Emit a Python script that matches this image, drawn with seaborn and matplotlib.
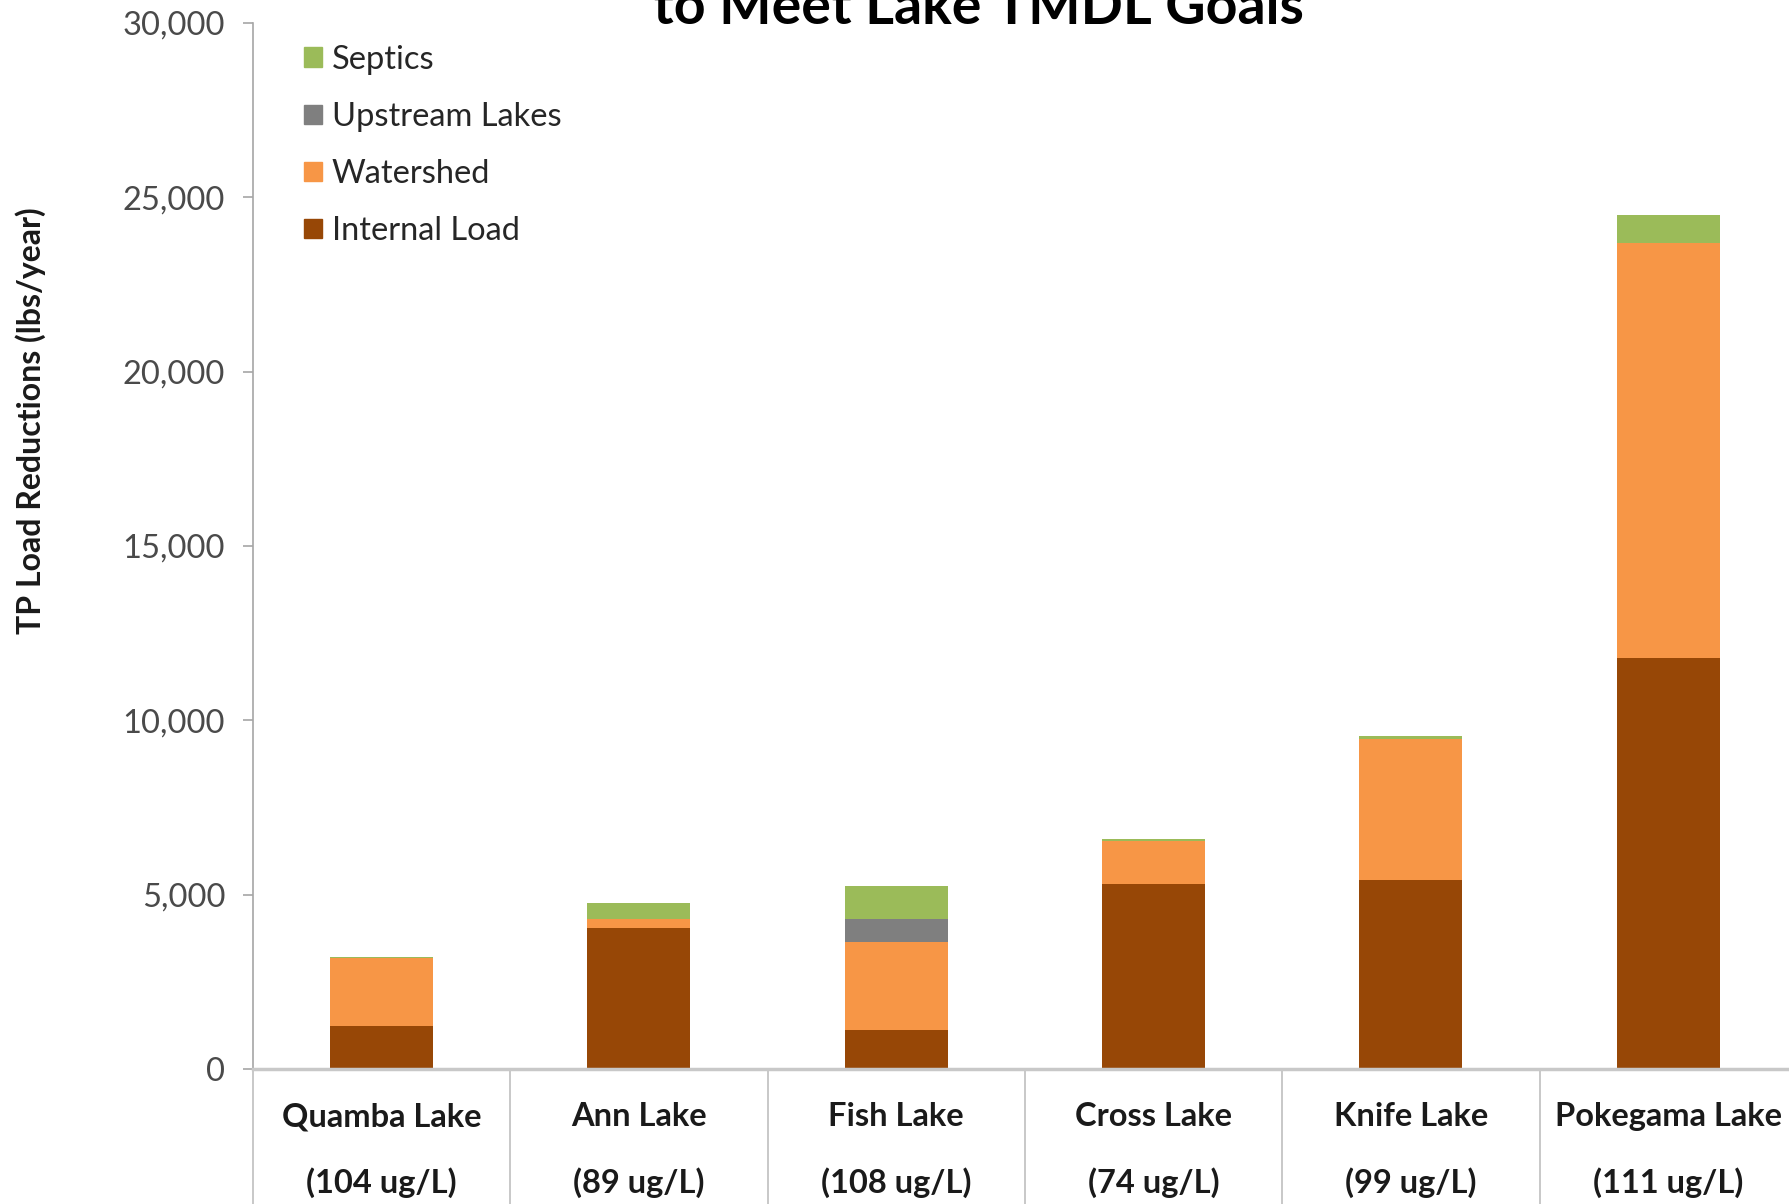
import numpy as np
import seaborn as sns
import matplotlib.pyplot as plt
from matplotlib.patches import Patch
from matplotlib.ticker import FuncFormatter

# Data (lbs/year)
lakes = ['Quamba Lake', 'Ann Lake', 'Fish Lake', 'Cross Lake', 'Knife Lake', 'Pokegama Lake']
concs = ['(104 ug/L)', '(89 ug/L)', '(108 ug/L)', '(74 ug/L)', '(99 ug/L)', '(111 ug/L)']
internal_load = [1220, 4050, 1130, 5320, 5430, 11790]
watershed = [1950, 240, 2510, 1210, 4040, 11900]
upstream_lakes = [0, 0, 660, 0, 0, 0]
septics = [40, 460, 940, 70, 70, 810]

series = [('Internal Load', internal_load, '#974706'),
          ('Watershed', watershed, '#F79646'),
          ('Upstream Lakes', upstream_lakes, '#7F7F7F'),
          ('Septics', septics, '#9BBB59')]

sns.set_style("white")
plt.rcParams['font.family'] = ['Lato', 'DejaVu Sans']

fig = plt.figure(figsize=(17.89, 12.04), dpi=100)
ax = fig.add_axes([0.1414, 0.1121, 0.863, 0.8689])

# stacked bars
bottom = np.zeros(len(lakes))
for name, vals, col in series:
    sns.barplot(x=lakes, y=vals, bottom=bottom, color=col, width=0.4,
                saturation=1, ax=ax, linewidth=0)
    bottom = bottom + np.array(vals)

ax.set_ylim(0, 30000)
ax.set_xlim(-0.5, len(lakes) - 0.5)
ax.set_yticks(range(0, 30001, 5000))
ax.yaxis.set_major_formatter(FuncFormatter(lambda v, p: f'{int(v):,}'))
ax.tick_params(axis='y', labelsize=23.5, labelcolor='#4a4a4a', color='#A6A6A6',
               length=7, width=1.2, pad=13, left=True)

# category labels (two lines) and long separator ticks like Excel
ax.set_xticks(range(len(lakes)))
ax.set_xticklabels([f'{a}\n{b}' for a, b in zip(lakes, concs)],
                   fontsize=23.5, fontweight='bold', color='#1a1a1a', linespacing=2.4)
ax.tick_params(axis='x', which='major', length=0, pad=24)
ax.set_xticks(np.arange(-0.5, len(lakes), 1.0), minor=True)
ax.tick_params(axis='x', which='minor', length=100, color='#BFBFBF', width=1.2, bottom=True)

for s in ['top', 'right']:
    ax.spines[s].set_visible(False)
ax.spines['left'].set_color('#A6A6A6')
ax.spines['left'].set_linewidth(1.2)
ax.spines['bottom'].set_color('#C8C8C8')
ax.spines['bottom'].set_linewidth(2.5)

ax.set_ylabel('TP Load Reductions (lbs/year)', fontsize=23, fontweight='bold', color='#1a1a1a')
ax.yaxis.set_label_coords(-0.134, 0.62)

handles = [Patch(color=col, label=name) for name, _, col in series[::-1]]
ax.legend(handles=handles, loc='upper left', bbox_to_anchor=(0.033, 0.979), frameon=False,
          fontsize=23.5, handlelength=0.55, handleheight=0.55, handletextpad=0.3,
          labelspacing=0.83, borderpad=0, borderaxespad=0, labelcolor='#262626')

# title, its first line is cut off by the top of the image
fig.text(0.547, 1 - 24 / 1204, 'to Meet Lake TMDL Goals', ha='center', va='baseline',
         fontsize=40, fontweight='bold', color='black')

fig.savefig('out.png', dpi=100)
